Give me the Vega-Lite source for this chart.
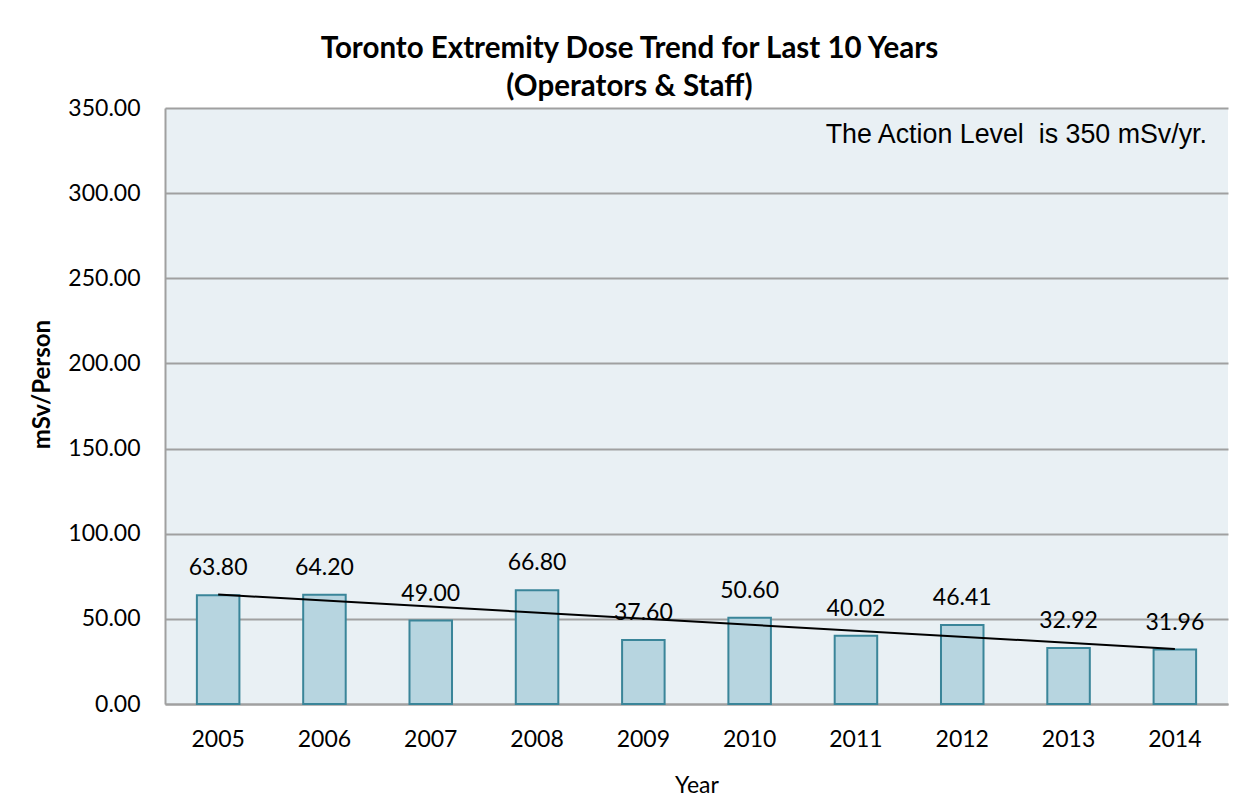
{
  "$schema": "https://vega.github.io/schema/vega-lite/v6.json",
  "width": 1063,
  "height": 596,
  "autosize": "none",
  "padding": {"left": 165, "top": 108, "right": 12, "bottom": 95},
  "background": "white",
  "title": {
    "text": ["Toronto Extremity Dose Trend for Last 10 Years", "(Operators & Staff)"],
    "font": "Lato",
    "fontSize": 29.5,
    "fontWeight": "bold",
    "color": "black",
    "anchor": "middle",
    "frame": "bounds",
    "lineHeight": 38,
    "offset": -5
  },
  "data": {
    "values": [
      {"year": 2005, "dose": 63.80},
      {"year": 2006, "dose": 64.20},
      {"year": 2007, "dose": 49.00},
      {"year": 2008, "dose": 66.80},
      {"year": 2009, "dose": 37.60},
      {"year": 2010, "dose": 50.60},
      {"year": 2011, "dose": 40.02},
      {"year": 2012, "dose": 46.41},
      {"year": 2013, "dose": 32.92},
      {"year": 2014, "dose": 31.96}
    ]
  },
  "encoding": {
    "x": {
      "field": "year",
      "type": "ordinal",
      "scale": {"paddingInner": 0.6, "paddingOuter": 0.3},
      "axis": {
        "title": "Year",
        "labelAngle": 0,
        "labelFont": "Lato",
        "labelFontSize": 23,
        "labelColor": "black",
        "labelPadding": 24,
        "titleFont": "Lato",
        "titleFontSize": 23,
        "titleFontWeight": "normal",
        "titleColor": "black",
        "titlePadding": 23,
        "ticks": false,
        "domainColor": "#a0a0a0",
        "domainWidth": 2
      }
    },
    "y": {
      "field": "dose",
      "type": "quantitative",
      "scale": {"domain": [0, 350], "nice": false},
      "axis": {
        "title": "mSv/Person",
        "values": [0, 50, 100, 150, 200, 250, 300, 350],
        "format": ".2f",
        "labelFont": "Lato",
        "labelFontSize": 23,
        "labelColor": "black",
        "labelPadding": 25,
        "titleFont": "Lato",
        "titleFontSize": 24,
        "titleFontWeight": "bold",
        "titleColor": "black",
        "titlePadding": 13,
        "titleY": 276,
        "ticks": false,
        "domainColor": "#a0a0a0",
        "domainWidth": 2,
        "grid": true,
        "gridColor": "#a0a0a0",
        "gridWidth": 2
      }
    }
  },
  "layer": [
    {
      "mark": {"type": "bar", "fill": "#b7d5e0", "stroke": "#3a8599", "strokeWidth": 2}
    },
    {
      "mark": {"type": "text", "font": "Lato", "fontSize": 23, "color": "black", "baseline": "middle", "dy": -27},
      "encoding": {"text": {"field": "dose", "type": "quantitative", "format": ".2f"}}
    },
    {
      "transform": [{"regression": "dose", "on": "year"}],
      "mark": {"type": "line", "color": "black", "strokeWidth": 2}
    },
    {
      "data": {"values": [{"note": "The Action Level\u00a0 is 350 mSv/yr.", "level": 334}]},
      "mark": {"type": "text", "font": "Liberation Sans", "fontSize": 26.8, "color": "black", "align": "right", "baseline": "middle", "dx": -21},
      "encoding": {
        "x": {"value": {"expr": "width"}},
        "y": {"field": "level", "type": "quantitative"},
        "text": {"field": "note"}
      }
    }
  ],
  "config": {
    "view": {"fill": "#e9f0f4", "stroke": null}
  }
}
